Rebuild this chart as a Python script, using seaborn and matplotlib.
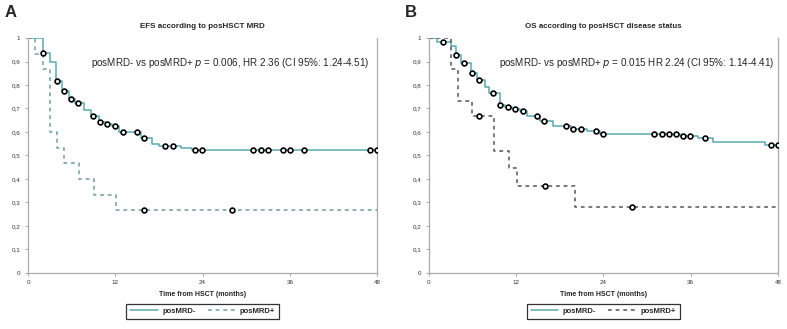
import numpy as np
import pandas as pd
import matplotlib
matplotlib.use("Agg")
import matplotlib.pyplot as plt
import seaborn as sns

# ---- Panel A: EFS according to posHSCT MRD ----
a_neg_t = [0, 2, 3, 3.9, 4.7, 5.7, 6.5, 7.7, 8.7, 9.7, 10.7, 11.5, 12.5, 15.5, 17.1, 18.0, 21.0, 22.6]
a_neg_s = [1.0, 0.935, 0.896, 0.816, 0.776, 0.740, 0.722, 0.693, 0.668, 0.643, 0.635, 0.625, 0.600,
           0.572, 0.548, 0.541, 0.530, 0.523]
a_neg_cens = [2, 4, 5, 5.9, 6.9, 8.9, 9.9, 10.9, 11.9, 13, 15, 16, 18.9, 19.9, 22.9, 23.9,
              31, 32, 33, 35, 36, 38, 47, 48]
a_pos_t = [0, 1, 2, 3, 4, 5, 7, 9.1, 12.1]
a_pos_s = [1.0, 0.933, 0.867, 0.600, 0.533, 0.467, 0.400, 0.333, 0.267]
a_pos_cens = [16, 28]

# ---- Panel B: OS according to posHSCT disease status ----
b_neg_t = [0, 1.2, 3.1, 3.7, 4.5, 5.85, 6.6, 7.7, 8.3, 9.85, 10.5, 11.5, 12.5, 13.5, 15.3,
           17.1, 19.5, 21.8, 23.5, 34.5, 37.0, 39.1, 46.2]
b_neg_s = [1.0, 0.984, 0.967, 0.928, 0.895, 0.852, 0.821, 0.790, 0.764, 0.713, 0.708, 0.699,
           0.690, 0.668, 0.647, 0.625, 0.614, 0.604, 0.593, 0.583, 0.572, 0.555, 0.545]
b_neg_cens = [1.9, 3.8, 4.9, 6.0, 6.9, 8.9, 9.85, 10.9, 11.9, 12.9, 14.9, 15.9, 18.9, 19.9, 20.9,
              22.95, 23.9, 31, 32, 33, 34, 35, 35.9, 38, 47.1, 48]
b_pos_t = [0, 3, 4, 6, 9, 11, 12.1, 20.1]
b_pos_s = [1.0, 0.867, 0.733, 0.667, 0.519, 0.445, 0.371, 0.278]
b_pos_cens = [6.9, 16, 28]

x_ticks = [0, 12, 24, 36, 48]
y_ticks = [0, 0.1, 0.2, 0.3, 0.4, 0.5, 0.6, 0.7, 0.8, 0.9, 1.0]
y_tick_labels = ["0", "0,1", "0,2", "0,3", "0,4", "0,5", "0,6", "0,7", "0,8", "0,9", "1"]

sns.set_style("white")
plt.rcParams["font.family"] = ["Liberation Sans", "DejaVu Sans"]

fig = plt.figure(figsize=(7.87, 3.29), dpi=100)

neg_color = "#5aa9b2"


def km_frame(t, s):
    # extend the last level to the end of follow-up
    return pd.DataFrame({"t": list(t) + [48], "s": list(s) + [s[-1]]})


def cens_frame(t, s, cens):
    idx = np.searchsorted(np.array(t), np.array(cens), side="right") - 1
    return pd.DataFrame({"t": cens, "s": np.array(s)[idx]})


def panel(rect, letter, title, title_size, note, note_x, neg, pos, pos_color):
    ax = fig.add_axes(rect)
    (nt, ns, nc), (pt, ps, pc) = neg, pos
    sns.lineplot(data=km_frame(nt, ns), x="t", y="s", drawstyle="steps-post", estimator=None,
                 sort=False, color=neg_color, lw=1.1, ax=ax, label="posMRD-")
    sns.lineplot(data=km_frame(pt, ps), x="t", y="s", drawstyle="steps-post", estimator=None,
                 sort=False, color=pos_color, lw=1.1, ls=(0, (2.5, 2.5)), ax=ax, label="posMRD+")
    for t, s, c in [(nt, ns, nc), (pt, ps, pc)]:
        sns.scatterplot(data=cens_frame(t, s, c), x="t", y="s", marker="o", s=12,
                        facecolor="white", edgecolor="black", linewidth=1.2, ax=ax, zorder=5)
    ax.set_xlim(0, 48)
    ax.set_ylim(0, 1)
    ax.set_xticks(x_ticks)
    ax.set_xticklabels([str(v) for v in x_ticks], fontsize=4.5, color="#333333")
    ax.set_yticks(y_ticks)
    ax.set_yticklabels(y_tick_labels, fontsize=4.5, color="#333333")
    ax.tick_params(axis="both", length=2.5, width=0.6, color="#999999", pad=3, direction="out",
                   bottom=True, left=True)
    for side in ["left", "bottom", "right"]:
        ax.spines[side].set_color("#aaaaaa")
        ax.spines[side].set_linewidth(0.9)
    ax.spines["top"].set_visible(False)
    ax.set_xlabel("Time from HSCT (months)", fontsize=5.0, fontweight="bold", labelpad=4)
    ax.set_ylabel("")
    ax.set_title(title, fontsize=title_size, fontweight="bold", pad=7.5)
    ax.text(note_x, 0.895, note, transform=ax.transAxes, ha="right", va="center", fontsize=7.1)
    ax.text(-0.068, 1.11, letter, transform=ax.transAxes, fontsize=12, fontweight="bold",
            ha="left", va="center")
    handles, labels = ax.get_legend_handles_labels()
    leg = ax.legend(handles[:2], labels[:2], loc="upper center", bbox_to_anchor=(0.5, -0.115),
                    ncol=2, frameon=True, fancybox=False, handlelength=3.6,
                    columnspacing=1.6, borderpad=0.55, handletextpad=0.6,
                    prop={"weight": "bold", "size": 5.5})
    leg.get_frame().set_edgecolor("black")
    leg.get_frame().set_linewidth(0.9)
    return ax


panel([0.0356, 0.171, 0.4435, 0.7134], "A", "EFS according to posHSCT MRD", 5.8,
      r"posMRD- vs posMRD+ $p$ = 0.006, HR 2.36 (CI 95%: 1.24-4.51)", 0.977,
      (a_neg_t, a_neg_s, a_neg_cens), (a_pos_t, a_pos_s, a_pos_cens), "#6e9f94")
panel([0.5447, 0.171, 0.4438, 0.7134], "B", "OS according to posHSCT disease status", 5.7,
      r"posMRD- vs posMRD+ $p$ = 0.015 HR 2.24 (CI 95%: 1.14-4.41)", 0.989,
      (b_neg_t, b_neg_s, b_neg_cens), (b_pos_t, b_pos_s, b_pos_cens), "#555555")

fig.savefig("out.png", dpi=100)
